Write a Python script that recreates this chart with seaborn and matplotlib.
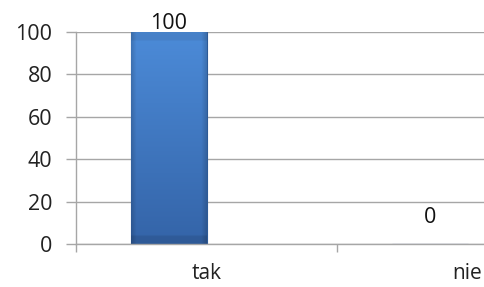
import numpy as np
import matplotlib
matplotlib.use("Agg")
import matplotlib.pyplot as plt
import matplotlib.colors as mcolors
import pandas as pd
import seaborn as sns

# chart data
categories = ["tak", "nie"]
values = [100, 0]
series = ["Seria1", "Seria1"]
series_order = ["Seria1", "Seria2"]   # Excel kept room for a 2nd (empty) series

df = pd.DataFrame({"odp": categories, "proc": values, "seria": series})

sns.set_theme(style="white")
plt.rcParams["font.family"] = ["Open Sans", "DejaVu Sans"]

fig = plt.figure(figsize=(4.85, 2.87), dpi=100)
# the plot area runs past the right edge of the picture (cropped screenshot)
ax = fig.add_axes([76 / 485, 43 / 287, 522 / 485, 212 / 287])

sns.barplot(data=df, x="odp", y="proc", hue="seria", hue_order=series_order,
            order=categories, palette=["#3f7bc8", "#c0504d"], width=0.575,
            dodge=True, edgecolor="#2d5a96", linewidth=0.8, legend=False, ax=ax)

ax.set_xlim(-0.5, len(categories) - 0.5)
ax.set_ylim(0, 100)
ax.set_yticks(np.arange(0, 101, 20))
ax.set_xlabel("")
ax.set_ylabel("")

# gridlines and axis lines in Excel grey
ax.grid(axis="y", color="#a6a6a6", linewidth=1)
ax.set_axisbelow(True)
for side in ["top", "right"]:
    ax.spines[side].set_visible(False)
for side in ["left", "bottom"]:
    ax.spines[side].set_color("#a6a6a6")
    ax.spines[side].set_linewidth(1)

# y ticks outside, x ticks at category boundaries, labels at the centres
ax.tick_params(axis="y", direction="out", length=7, width=1, color="#a6a6a6",
               pad=10, labelsize=15.5, labelcolor="#222222", left=True)
ax.set_xticks(np.arange(-0.5, len(categories)), labels=[])
ax.set_xticks(np.arange(len(categories)), labels=categories, minor=True)
ax.tick_params(axis="x", which="major", direction="out", length=6, width=1,
               color="#a6a6a6", bottom=True)
ax.tick_params(axis="x", which="minor", length=0, pad=14, labelsize=15,
               labelcolor="#222222")

# gradient fill on the bars (Excel bevel look)
top = np.array(mcolors.to_rgb("#4c8bd8"))
bot = np.array(mcolors.to_rgb("#3464a8"))
t = np.linspace(0, 1, 100)[:, None, None]
grad = top * (1 - t) + bot * t
grad = np.repeat(grad, 60, axis=1)
edge = np.ones(60)
edge[:5] = np.linspace(0.85, 1, 5)
edge[-5:] = np.linspace(1, 0.85, 5)
grad = grad * edge[None, :, None]
grad[:4] = grad[:4] * 0.93
grad[-4:] = grad[-4:] * 0.9
for p in ax.containers[0]:
    h = p.get_height()
    if h and h > 0:
        x0, y0 = p.get_x(), p.get_y()
        im = ax.imshow(grad, extent=[x0, x0 + p.get_width(), y0, y0 + h],
                       aspect="auto", zorder=p.get_zorder() + 0.1,
                       interpolation="bilinear")
        im.set_clip_path(p)

# data labels
offsets = [6, 19]
for p, v, off in zip(ax.containers[0], values, offsets):
    ax.annotate(f"{v}", (p.get_x() + p.get_width() / 2, p.get_height()),
                xytext=(0, off), textcoords="offset points", ha="center",
                va="center", fontsize=15.5, color="#111111", zorder=5)

ax.set_xlim(-0.5, len(categories) - 0.5)
ax.set_ylim(0, 100)

plt.savefig("out.png", dpi=100)
